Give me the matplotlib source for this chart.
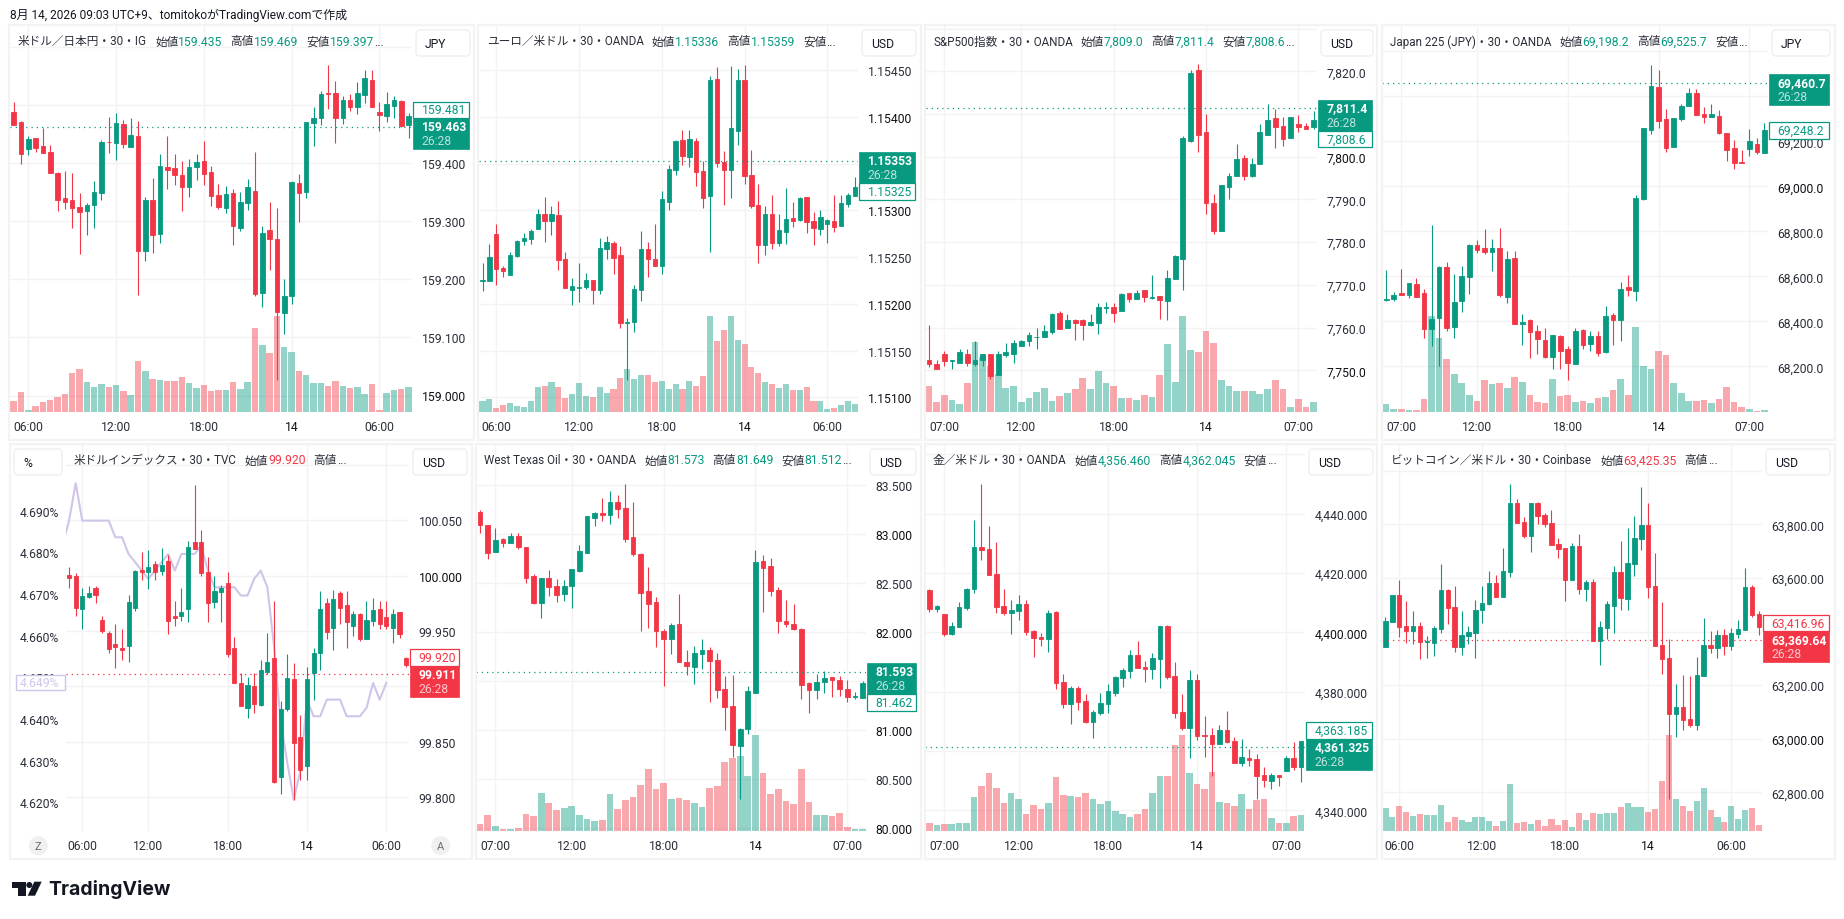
import numpy as np
import matplotlib
matplotlib.use('Agg')
import matplotlib.pyplot as plt
from matplotlib.patches import Rectangle, FancyBboxPatch, Polygon, Circle

plt.rcParams['font.family'] = ['Roboto', 'Noto Sans CJK JP', 'DejaVu Sans']

# ---- USD/JPY ----
usdjpy_open = [159.488,159.471,159.424,159.444,159.430,159.420,159.383,159.340,159.337,159.325,159.318,159.328,159.349,159.437,159.435,159.468,159.428,159.447,159.249,159.337,159.278,159.394,159.392,159.380,159.359,159.394,159.404,159.385,159.345,159.323,159.349,159.288,159.332,159.352,159.176,159.285,159.269,159.142,159.171,159.366,159.351,159.470,159.478,159.521,159.521,159.478,159.509,159.497,159.518,159.544,159.489,159.482,159.499,159.508,159.466]
usdjpy_high = [159.505,159.473,159.447,159.444,159.461,159.432,159.385,159.387,159.383,159.349,159.332,159.370,159.440,159.480,159.487,159.475,159.478,159.473,159.342,159.375,159.416,159.447,159.416,159.404,159.407,159.416,159.439,159.395,159.364,159.361,159.356,159.351,159.373,159.420,159.292,159.333,159.323,159.200,159.370,159.382,159.471,159.497,159.525,159.570,159.542,159.516,159.520,159.540,159.561,159.561,159.505,159.523,159.516,159.509,159.487]
usdjpy_low = [159.466,159.399,159.414,159.420,159.418,159.383,159.318,159.321,159.288,159.244,159.276,159.288,159.337,159.418,159.406,159.426,159.428,159.173,159.232,159.245,159.263,159.356,159.363,159.318,159.342,159.371,159.363,159.326,159.321,159.314,159.259,159.283,159.319,159.171,159.152,159.216,159.026,159.106,159.157,159.299,159.340,159.430,159.466,159.494,159.435,159.468,159.490,159.485,159.504,159.497,159.456,159.471,159.478,159.463,159.444]
usdjpy_close = [159.466,159.416,159.442,159.427,159.418,159.383,159.337,159.333,159.323,159.316,159.328,159.351,159.436,159.436,159.470,159.433,159.449,159.249,159.337,159.276,159.395,159.388,159.380,159.359,159.394,159.402,159.382,159.344,159.325,159.347,159.292,159.333,159.359,159.175,159.280,159.269,159.144,159.171,159.368,159.349,159.471,159.478,159.520,159.520,159.478,159.509,159.497,159.521,159.547,159.497,159.483,159.502,159.509,159.464,159.482]
usdjpy_vol = [32,59,5,17,29,35,44,53,116,128,89,74,83,74,80,62,50,152,122,98,95,92,92,104,86,71,80,62,65,65,89,68,89,251,200,176,287,194,179,122,110,86,86,77,92,77,71,74,53,83,5,56,65,68,74]
usdjpy_ticks = [159.0,159.1,159.2,159.3,159.4,159.5]
usdjpy_extra_grid = [159.6]

# ---- EUR/USD ----
eurusd_open = [1.15225,1.15224,1.15275,1.15238,1.15231,1.15251,1.15267,1.15269,1.15280,1.15296,1.15289,1.15295,1.15248,1.15215,1.15217,1.15218,1.15226,1.15215,1.15259,1.15265,1.15252,1.15180,1.15181,1.15215,1.15259,1.15248,1.15241,1.15309,1.15343,1.15375,1.15357,1.15374,1.15342,1.15315,1.15441,1.15352,1.15343,1.15385,1.15440,1.15338,1.15306,1.15263,1.15296,1.15265,1.15277,1.15292,1.15290,1.15314,1.15289,1.15280,1.15285,1.15289,1.15283,1.15307,1.15315]
eurusd_high = [1.15244,1.15264,1.15285,1.15240,1.15256,1.15268,1.15276,1.15280,1.15302,1.15314,1.15305,1.15310,1.15256,1.15228,1.15244,1.15233,1.15226,1.15270,1.15273,1.15267,1.15262,1.15185,1.15220,1.15278,1.15266,1.15286,1.15321,1.15349,1.15375,1.15386,1.15386,1.15378,1.15353,1.15444,1.15454,1.15364,1.15455,1.15451,1.15456,1.15365,1.15328,1.15305,1.15316,1.15296,1.15324,1.15309,1.15314,1.15314,1.15298,1.15300,1.15291,1.15316,1.15316,1.15319,1.15336]
eurusd_low = [1.15214,1.15224,1.15220,1.15229,1.15231,1.15250,1.15263,1.15264,1.15280,1.15266,1.15274,1.15236,1.15217,1.15199,1.15202,1.15216,1.15200,1.15211,1.15248,1.15232,1.15174,1.15118,1.15170,1.15203,1.15229,1.15240,1.15232,1.15300,1.15338,1.15349,1.15347,1.15326,1.15303,1.15256,1.15346,1.15306,1.15313,1.15370,1.15328,1.15303,1.15244,1.15252,1.15259,1.15262,1.15264,1.15282,1.15289,1.15276,1.15263,1.15274,1.15265,1.15277,1.15283,1.15304,1.15315]
eurusd_close = [1.15226,1.15250,1.15237,1.15235,1.15252,1.15267,1.15270,1.15278,1.15296,1.15289,1.15296,1.15247,1.15217,1.15219,1.15218,1.15226,1.15215,1.15260,1.15266,1.15249,1.15179,1.15181,1.15216,1.15259,1.15248,1.15240,1.15312,1.15344,1.15374,1.15358,1.15376,1.15341,1.15313,1.15440,1.15351,1.15343,1.15388,1.15440,1.15337,1.15305,1.15263,1.15296,1.15265,1.15279,1.15291,1.15289,1.15313,1.15288,1.15281,1.15293,1.15290,1.15282,1.15308,1.15316,1.15325]
eurusd_vol = [32,38,11,20,26,17,14,32,74,77,89,74,41,53,86,47,44,74,56,68,101,128,98,110,110,89,92,68,83,68,92,77,107,287,212,245,287,215,203,134,116,89,83,71,83,65,65,74,32,32,8,11,20,32,23]
eurusd_ticks = [1.151,1.1515,1.152,1.1525,1.153,1.154,1.1545]
eurusd_extra_grid = [1.1535]

# ---- S&P500 ----
spx_open = [7752.5,7751.4,7753.7,7752.1,7751.8,7753.7,7751.4,7752.3,7753.7,7748.8,7753.5,7753.9,7755.6,7756.8,7757.8,7757.9,7758.9,7763.3,7759.8,7761.7,7761.7,7760.5,7761.0,7764.7,7764.9,7763.8,7768.0,7766.8,7768.7,7767.0,7767.5,7766.3,7771.3,7776.0,7803.6,7820.2,7805.7,7789.1,7782.7,7792.8,7795.6,7799.8,7795.6,7798.2,7805.2,7809.0,7807.3,7804.3,7807.6,7807.3,7806.9]
spx_high = [7760.5,7752.3,7754.6,7752.5,7755.1,7754.9,7756.8,7753.9,7753.9,7754.6,7756.5,7757.0,7757.2,7758.9,7759.8,7760.7,7763.3,7763.8,7763.1,7762.1,7762.1,7763.1,7765.7,7766.1,7765.7,7768.0,7768.0,7768.7,7768.9,7772.2,7767.5,7773.4,7776.9,7804.8,7820.2,7821.6,7809.9,7791.2,7793.3,7796.1,7802.9,7800.3,7799.8,7807.6,7812.3,7811.1,7809.2,7809.4,7809.7,7807.8,7810.6]
spx_low = [7750.7,7750.2,7751.1,7750.2,7751.8,7750.9,7750.9,7751.1,7747.9,7748.8,7753.2,7751.6,7755.6,7755.8,7755.1,7757.9,7758.6,7759.6,7759.8,7757.2,7757.2,7760.3,7758.6,7763.5,7761.2,7763.8,7766.1,7766.8,7766.1,7766.8,7762.1,7761.7,7771.3,7768.9,7803.4,7801.2,7786.7,7781.8,7782.5,7790.0,7795.6,7794.5,7795.2,7798.2,7805.2,7802.0,7802.4,7804.3,7805.7,7806.6,7806.6]
spx_close = [7751.4,7750.2,7752.1,7752.3,7754.2,7751.6,7752.3,7753.7,7748.6,7753.7,7754.2,7756.3,7756.8,7758.2,7757.9,7759.1,7763.1,7759.6,7761.7,7761.0,7760.7,7761.2,7764.9,7764.9,7763.5,7767.8,7766.8,7768.2,7767.1,7767.2,7766.5,7771.7,7776.7,7804.3,7819.7,7805.0,7789.1,7782.7,7793.3,7795.4,7799.4,7795.6,7798.4,7805.9,7808.7,7806.9,7804.1,7809.2,7806.9,7806.6,7808.7]
spx_vol = [77,29,50,35,23,86,209,164,137,113,71,77,29,41,59,71,32,47,56,68,101,68,122,86,77,41,41,35,50,44,110,203,89,287,185,179,242,206,95,77,62,62,62,53,68,95,68,14,38,14,29]
spx_ticks = [7750,7760,7770,7780,7790,7800,7820]
spx_extra_grid = [7810,7830]

# ---- Japan 225 ----
nikkei_open = [68495,68499,68526,68517,68566,68526,68366,68415,68641,68375,68490,68597,68739,68726,68708,68726,68508,68681,68390,68406,68357,68317,68241,68335,68277,68210,68361,68299,68335,68264,68428,68406,68553,68535,68944,69250,69441,69299,69175,69299,69357,69415,69321,69308,69313,69237,69170,69108,69166,69188,69148]
nikkei_high = [68628,68530,68633,68570,68593,68544,68828,68646,68664,68610,68646,68744,68761,68810,68766,68815,68713,68713,68433,68410,68384,68370,68339,68339,68290,68370,68366,68357,68357,68468,68437,68575,68606,68961,69259,69539,69517,69344,69304,69366,69437,69433,69353,69366,69339,69237,69206,69161,69255,69215,69281]
nikkei_low = [68492,68492,68517,68504,68508,68326,68290,68201,68357,68326,68441,68521,68704,68699,68624,68508,68481,68388,68295,68237,68255,68237,68188,68188,68139,68210,68277,68268,68246,68259,68295,68313,68513,68490,68939,69233,69259,69153,69175,69290,69357,69317,69281,69308,69233,69113,69077,69104,69135,69144,69148]
nikkei_close = [68498,68517,68517,68570,68508,68366,68410,68641,68370,68486,68601,68739,68717,68708,68726,68517,68677,68388,68395,68353,68321,68241,68339,68268,68215,68357,68295,68335,68259,68424,68406,68544,68539,68948,69259,69446,69290,69170,69304,69357,69415,69317,69308,69321,69237,69161,69104,69104,69201,69153,69250]
nikkei_vol = [23,8,8,5,5,38,287,221,158,113,86,50,32,95,83,86,71,104,89,50,29,26,98,47,50,29,32,26,41,44,65,98,50,254,137,128,182,170,86,56,32,32,35,26,38,74,29,14,8,2,5]
nikkei_ticks = [68200,68400,68600,68800,69000,69200]
nikkei_extra_grid = [69400,69600]

# ---- Dollar index ----
dxy_open = [100.001,100.000,99.970,99.981,99.989,99.960,99.948,99.938,99.935,99.937,99.971,100.005,100.003,100.011,100.004,100.013,99.964,99.964,99.970,100.030,100.030,100.003,99.976,99.985,99.993,99.935,99.903,99.881,99.900,99.883,99.913,99.926,99.818,99.880,99.907,99.854,99.828,99.912,99.930,99.975,99.953,99.984,99.974,99.955,99.965,99.943,99.959,99.970,99.963,99.953,99.967,99.926]
dxy_high = [100.008,100.002,99.989,99.991,99.991,99.964,99.950,99.956,99.952,99.983,100.005,100.021,100.023,100.013,100.025,100.019,99.977,99.989,100.031,100.082,100.041,100.017,100.000,99.992,100.003,99.945,99.912,99.909,99.912,99.924,99.948,99.977,99.887,99.929,99.921,99.874,99.918,99.935,99.986,99.980,99.987,99.986,99.986,99.968,99.966,99.977,99.980,99.977,99.977,99.970,99.967,99.927]
dxy_low = [99.989,99.964,99.952,99.980,99.975,99.948,99.930,99.917,99.924,99.922,99.968,99.996,99.988,99.996,100.001,99.947,99.955,99.959,99.958,100.024,100.000,99.958,99.971,99.958,99.927,99.903,99.882,99.872,99.876,99.882,99.911,99.813,99.803,99.878,99.798,99.816,99.816,99.888,99.915,99.943,99.933,99.956,99.935,99.946,99.941,99.943,99.955,99.952,99.952,99.939,99.944,99.918]
dxy_close = [99.998,99.971,99.982,99.984,99.983,99.950,99.934,99.936,99.933,99.976,100.004,100.003,100.008,100.003,100.010,99.959,99.962,99.967,100.026,100.024,100.002,99.975,99.986,99.989,99.929,99.903,99.882,99.901,99.884,99.915,99.922,99.814,99.880,99.908,99.849,99.825,99.907,99.930,99.970,99.949,99.979,99.971,99.958,99.965,99.943,99.960,99.969,99.956,99.955,99.965,99.947,99.919]
dxy_ticks = [99.8,99.85,99.95,100.0,100.05]
dxy_extra_grid = [99.9,100.1]
# 左軸の利回りライン (-1 は描画範囲の外から入る点)
yield_values = [4.682,4.688,4.697,4.688,4.688,4.688,4.688,4.688,4.684,4.684,4.680,4.678,4.676,4.674,4.676,4.678,4.680,4.676,4.680,4.680,4.680,4.682,4.676,4.672,4.672,4.672,4.672,4.670,4.670,4.674,4.676,4.672,4.658,4.640,4.630,4.621,4.628,4.645,4.641,4.641,4.645,4.645,4.645,4.641,4.641,4.641,4.643,4.649,4.645,4.649]
yield_ticks = [4.62,4.63,4.64,4.65,4.66,4.67,4.68,4.69]

# ---- WTI ----
wti_open = [83.221,83.088,82.813,82.945,82.904,82.976,82.864,82.568,82.292,82.547,82.466,82.384,82.466,82.619,82.802,83.159,83.210,83.190,83.323,83.261,82.966,82.792,82.415,82.303,82.007,81.925,82.078,81.691,81.640,81.772,81.813,81.711,81.415,81.242,80.834,81.007,81.374,82.721,82.670,82.425,82.109,82.078,82.027,81.476,81.405,81.487,81.538,81.507,81.415,81.337,81.323]
wti_high = [83.241,83.088,83.057,82.955,83.006,83.006,82.864,82.588,82.547,82.629,82.537,82.527,82.639,82.884,83.180,83.221,83.363,83.435,83.394,83.506,83.323,82.802,82.660,82.354,82.027,82.088,82.384,81.813,81.854,81.925,81.844,81.782,81.548,81.558,81.017,81.446,82.833,82.782,82.751,82.456,82.323,82.282,82.037,81.487,81.568,81.599,81.538,81.548,81.507,81.385,81.497]
wti_low = [83.006,82.741,82.813,82.864,82.904,82.843,82.496,82.282,82.139,82.364,82.303,82.313,82.241,82.609,82.802,83.078,83.129,83.098,83.159,82.915,82.772,82.007,82.037,81.844,81.446,81.772,81.691,81.558,81.466,81.619,81.283,81.323,80.997,80.722,80.293,80.956,81.374,82.201,82.364,81.986,82.048,82.017,81.313,81.170,81.313,81.374,81.334,81.344,81.283,81.313,81.323]
wti_close = [83.088,82.802,82.935,82.904,82.976,82.864,82.547,82.292,82.547,82.456,82.374,82.466,82.639,82.823,83.180,83.210,83.190,83.323,83.251,82.945,82.792,82.394,82.282,82.007,81.925,82.068,81.691,81.650,81.782,81.813,81.701,81.405,81.232,80.844,81.007,81.395,82.711,82.649,82.415,82.109,82.078,82.027,81.456,81.405,81.487,81.527,81.507,81.415,81.334,81.344,81.476]
wti_vol = [21,48,15,6,6,9,51,45,114,84,63,69,75,48,36,30,33,111,66,93,102,138,186,126,144,96,99,93,84,72,129,135,207,219,225,165,288,174,111,126,90,81,186,87,48,48,45,54,12,6,6]
wti_ticks = [80.0,80.5,81.0,82.0,82.5,83.0,83.5]
wti_extra_grid = [81.5]

# ---- Gold ----
gold_open = [4414.3,4407.9,4406.2,4399.4,4401.8,4408.2,4414.6,4428.8,4428.1,4419.7,4408.9,4406.5,4407.2,4409.6,4400.4,4398.4,4397.8,4406.9,4383.3,4375.8,4381.2,4376.9,4369.8,4372.8,4375.8,4379.6,4384.6,4387.0,4392.4,4388.3,4387.6,4391.0,4402.1,4385.3,4373.1,4367.8,4383.9,4365.4,4365.4,4362.4,4367.1,4363.4,4356.0,4357.6,4357.3,4351.9,4349.9,4351.9,4353.3,4357.6,4354.6]
gold_high = [4414.6,4409.2,4406.2,4403.5,4410.2,4414.9,4437.9,4450.0,4435.8,4430.4,4414.6,4410.9,4412.6,4410.9,4400.8,4399.8,4407.5,4407.2,4386.0,4381.9,4381.9,4379.2,4373.8,4379.6,4382.6,4385.3,4388.0,4394.0,4397.1,4390.3,4393.0,4402.1,4402.5,4390.0,4379.2,4387.3,4386.0,4371.8,4367.8,4368.8,4373.5,4364.7,4364.0,4360.7,4359.0,4354.6,4352.6,4351.9,4358.3,4363.0,4363.4]
gold_low = [4406.9,4406.9,4398.8,4399.1,4401.8,4407.5,4413.3,4424.4,4419.3,4406.5,4405.8,4399.4,4404.2,4399.1,4391.7,4395.4,4393.4,4380.9,4374.5,4369.1,4373.8,4369.4,4364.4,4372.1,4372.8,4378.5,4381.6,4384.6,4388.0,4383.3,4384.3,4381.2,4384.3,4371.1,4367.1,4357.6,4363.7,4358.0,4351.6,4362.4,4362.7,4356.0,4354.9,4354.9,4343.8,4347.9,4347.2,4348.2,4353.3,4353.6,4349.5]
gold_close = [4407.9,4408.8,4399.4,4402.1,4408.5,4414.6,4428.8,4427.8,4419.3,4408.5,4406.5,4407.5,4409.6,4400.1,4398.1,4397.8,4406.5,4382.9,4375.8,4381.2,4376.5,4369.8,4373.1,4376.2,4380.2,4384.9,4387.3,4392.4,4388.0,4387.6,4391.3,4402.1,4384.9,4372.8,4367.8,4383.9,4365.1,4365.1,4362.4,4367.1,4363.0,4356.0,4358.0,4357.0,4351.6,4350.2,4351.9,4351.2,4357.6,4354.6,4363.4]
gold_vol = [24,18,21,21,24,24,102,135,174,129,84,114,96,51,78,66,84,162,108,105,102,114,96,81,90,60,51,42,51,66,114,165,165,258,288,174,141,126,177,87,84,75,111,66,93,96,39,24,24,45,48]
gold_ticks = [4340,4380,4400,4420,4440]
gold_extra_grid = [4360,4460]

# ---- Bitcoin ----
btc_open = [63342,63435,63536,63420,63401,63420,63361,63356,63409,63554,63491,63342,63383,63394,63480,63502,63580,63528,63621,63879,63808,63756,63879,63834,63804,63726,63711,63592,63718,63558,63584,63364,63412,63495,63621,63521,63651,63745,63797,63569,63349,63300,63092,63118,63073,63050,63233,63349,63338,63386,63345,63390,63405,63565,63465]
btc_high = [63453,63536,63592,63513,63476,63435,63383,63420,63651,63558,63569,63476,63420,63517,63569,63625,63610,63711,63950,63894,63827,63879,63883,63842,63853,63748,63711,63730,63763,63592,63595,63439,63513,63644,63737,63786,63830,63939,63879,63692,63509,63371,63203,63237,63233,63304,63450,63401,63405,63409,63412,63442,63636,63573,63476]
btc_low = [63342,63435,63379,63356,63353,63297,63300,63308,63394,63427,63323,63312,63353,63300,63431,63498,63528,63528,63603,63804,63748,63696,63800,63789,63722,63674,63513,63592,63539,63513,63364,63274,63371,63394,63480,63480,63606,63703,63524,63345,63241,62774,63006,63032,63043,63032,63233,63319,63300,63312,63330,63375,63405,63453,63386]
btc_close = [63439,63536,63416,63401,63420,63360,63364,63412,63554,63487,63342,63386,63398,63480,63506,63580,63528,63625,63879,63804,63756,63879,63830,63800,63722,63707,63592,63718,63558,63584,63364,63416,63502,63621,63524,63655,63748,63797,63565,63345,63297,63092,63118,63069,63050,63237,63349,63338,63386,63345,63394,63409,63565,63461,63416]
btc_vol = [69,42,75,57,45,51,48,48,78,27,42,33,27,42,42,30,15,30,141,24,27,21,33,15,36,18,33,12,54,33,54,51,54,54,72,84,72,72,57,66,150,288,96,75,60,90,129,63,42,27,75,36,63,69,18]
btc_ticks = [62800,63000,63200,63600,63800]
btc_extra_grid = [63400,64000]

UP = '#089981'
DOWN = '#F23645'
GRID = '#F3F3F3'
TEXT = '#2A2E39'
STRONG = '#0F1116'
W, H = 1844, 920
VOL_TOP = 1158  # 出来高は下から1/3に収める

panels = [
    dict(o=usdjpy_open, h=usdjpy_high, l=usdjpy_low, c=usdjpy_close, vol=usdjpy_vol, ticks=usdjpy_ticks, extra=usdjpy_extra_grid,
         dec=3, strong=[159.0], name='米ドル／日本円・30・IG', head=[('始値', '159.435', UP), ('高値', '159.469', UP), ('安値', '159.397', UP)], unit='JPY',
         last=159.463, prev=159.481, xt=[2, 14, 26, 38, 50], xl=['06:00', '12:00', '18:00', '14', '06:00'],
         rect=(10, 27, 412, 413), frame=(9, 26, 474, 441), x_a=(85/3, 1138/3), y_a=(159.4, 164.3, 159.0, 396.5), tag_w=56, btn=(416, 470), title_x=18),
    dict(o=eurusd_open, h=eurusd_high, l=eurusd_low, c=eurusd_close, vol=eurusd_vol, ticks=eurusd_ticks, extra=eurusd_extra_grid,
         dec=5, strong=[1.151, 1.152, 1.153, 1.154], name='ユーロ／米ドル・30・OANDA', head=[('始値', '1.15336', UP), ('高値', '1.15359', UP), ('安値', '', UP)], unit='USD',
         last=1.15353, prev=1.15325, xt=[2, 14, 26, 38, 50], xl=['06:00', '12:00', '18:00', '14', '06:00'],
         rect=(479, 27, 858, 413), frame=(478, 26, 921, 441), x_a=(496.3, 827.3), y_a=(1.154, 118, 1.151, 398.3), tag_w=56, btn=(862, 916), title_x=487),
    dict(o=spx_open, h=spx_high, l=spx_low, c=spx_close, vol=spx_vol, ticks=spx_ticks, extra=spx_extra_grid,
         dec=1, strong=[7800, 7750], name='S&P500指数・30・OANDA', head=[('始値', '7,809.0', UP), ('高値', '7,811.4', UP), ('安値', '7,808.6', UP)], unit='USD',
         last=7811.4, prev=7808.6, xt=[2, 12, 24, 36, 48], xl=['07:00', '12:00', '18:00', '14', '07:00'],
         rect=(926, 27, 1317, 413), frame=(925, 26, 1377, 441), x_a=(944.3, 1298.3), y_a=(7820, 72.3, 7750, 371.3), tag_w=54, btn=(1321, 1373), title_x=933),
    dict(o=nikkei_open, h=nikkei_high, l=nikkei_low, c=nikkei_close, vol=nikkei_vol, ticks=nikkei_ticks, extra=nikkei_extra_grid,
         dec=1, strong=[69000], name='Japan 225 (JPY)・30・OANDA', head=[('始値', '69,198.2', UP), ('高値', '69,525.7', UP), ('安値', '', UP)], unit='JPY',
         last=69460.7, prev=69248.2, xt=[2, 12, 24, 36, 48], xl=['07:00', '12:00', '18:00', '14', '07:00'],
         rect=(1382, 27, 1768, 413), frame=(1382, 26, 1835, 441), x_a=(1401.3, 1749.3), y_a=(69400, 97.3, 68200, 367.3), tag_w=60, btn=(1772, 1830), title_x=1390),
    dict(o=dxy_open, h=dxy_high, l=dxy_low, c=dxy_close, vol=None, ticks=dxy_ticks, extra=dxy_extra_grid,
         dec=3, strong=[100.0], name='米ドルインデックス・30・TVC', head=[('始値', '99.920', DOWN), ('高値', '', DOWN)], unit='USD',
         last=99.911, prev=99.920, xt=[2, 12, 24, 36, 48], xl=['06:00', '12:00', '18:00', '14', '06:00'],
         rect=(66, 446, 409, 832), frame=(10, 445, 472, 860), x_a=(82.3, 386.3), y_a=(100.05, 521.3, 99.8, 798.3), tag_w=49, btn=(413, 467), title_x=74),
    dict(o=wti_open, h=wti_high, l=wti_low, c=wti_close, vol=wti_vol, ticks=wti_ticks, extra=wti_extra_grid,
         dec=3, strong=[83.0, 82.0, 81.0, 80.0], name='West Texas Oil・30・OANDA', head=[('始値', '81.573', UP), ('高値', '81.649', UP), ('安値', '81.512', UP)], unit='USD',
         last=81.593, prev=81.462, xt=[2, 12, 24, 36, 48], xl=['07:00', '12:00', '18:00', '14', '07:00'],
         rect=(476, 446, 866, 832), frame=(476, 445, 921, 860), x_a=(495.3, 847.3), y_a=(83.5, 485.7, 80.0, 828.7), tag_w=49, btn=(870, 916), title_x=484),
    dict(o=gold_open, h=gold_high, l=gold_low, c=gold_close, vol=gold_vol, ticks=gold_ticks, extra=gold_extra_grid,
         dec=3, strong=[4400], name='金／米ドル・30・OANDA', head=[('始値', '4,356.460', UP), ('高値', '4,362.045', UP), ('安値', '', UP)], unit='USD',
         last=4361.325, prev=4363.185, xt=[2, 12, 24, 36, 48], xl=['07:00', '12:00', '18:00', '14', '07:00'],
         rect=(925, 446, 1305, 832), frame=(925, 445, 1377, 860), x_a=(944.3, 1286.3), y_a=(4440, 514.7, 4340, 811.3), tag_w=66, btn=(1309, 1373), title_x=933),
    dict(o=btc_open, h=btc_high, l=btc_low, c=btc_close, vol=btc_vol, ticks=btc_ticks, extra=btc_extra_grid,
         dec=2, strong=[63000], name='ビットコイン／米ドル・30・Coinbase', head=[('始値', '63,425.35', DOWN), ('高値', '', DOWN)], unit='USD',
         last=63369.64, prev=63416.96, xt=[2, 14, 26, 38, 50], xl=['06:00', '12:00', '18:00', '14', '06:00'],
         rect=(1382, 446, 1762, 832), frame=(1382, 445, 1835, 860), x_a=(1399.3, 1731.3), y_a=(63800, 525.3, 62800, 793.3), tag_w=66, btn=(1766, 1830), title_x=1391),
]

fig = plt.figure(figsize=(W / 100, H / 100), dpi=100, facecolor='white')
renderer = fig.canvas.get_renderer()


def px_rect(l, t, r, b):
    return [l / W, 1 - b / H, (r - l) / W, (b - t) / H]


def bare_axes(rect):
    ax = fig.add_axes(px_rect(*rect))
    ax.patch.set_visible(False)
    for s in ax.spines.values():
        s.set_visible(False)
    return ax


def fmt_price(v, dec):
    return f"{v:,.{dec}f}"


# ---- 各チャート ----
for p in panels:
    L, T, R, B = p['rect']
    n = len(p['o'])
    ia, ib = p['xt'][0], p['xt'][-1]
    step = (p['x_a'][1] - p['x_a'][0]) / (ib - ia)
    xlim = ((L - p['x_a'][0]) / step + ia, (R - p['x_a'][0]) / step + ia)
    p0, y0, p1, y1 = p['y_a']
    per_px = (p0 - p1) / (y1 - y0)
    ylim = (p0 - (B - y0) * per_px, p0 + (y0 - T) * per_px)
    p['price_y'] = lambda v, p0=p0, y0=y0, per_px=per_px: y0 + (p0 - v) / per_px

    # 目盛りとグリッド
    base = bare_axes(p['rect'])
    base.set_xlim(xlim)
    base.set_ylim(ylim)
    all_y = list(p['ticks']) + list(p['extra'])
    base.yaxis.tick_right()
    base.set_yticks(all_y)
    base.set_yticklabels([fmt_price(v, p['dec']) for v in p['ticks']] + [''] * len(p['extra']))
    base.tick_params(axis='y', length=0, pad=7, labelsize=8.7, labelcolor=TEXT)
    for lab, v in zip(base.get_yticklabels(), all_y):
        if any(abs(v - s) < 1e-9 for s in p['strong']):
            lab.set_color(STRONG)
    base.set_xticks(p['xt'])
    base.set_xticklabels(p['xl'])
    base.tick_params(axis='x', length=0, pad=6, labelsize=8.7, labelcolor=TEXT)
    for lab, s in zip(base.get_xticklabels(), p['xl']):
        if s == '14':
            lab.set_color(STRONG)
    base.grid(True, color=GRID, linewidth=1.0)
    base.set_axisbelow(True)

    # 出来高 / 利回り
    under = bare_axes(p['rect'])
    under.set_xlim(xlim)
    under.set_xticks([])
    under.set_yticks([])
    colors = [UP if c >= o else DOWN for o, c in zip(p['o'], p['c'])]
    if p['vol'] is not None:
        under.bar(np.arange(n), p['vol'], width=0.88, color=colors, alpha=0.43, linewidth=0)
        under.set_ylim(0, VOL_TOP)
    else:
        q_per_px = 0.07 / (804.7 - 513.3)
        under.set_ylim(4.69 - (B - 513.3) * q_per_px, 4.69 + (513.3 - T) * q_per_px)
        under.plot(np.arange(-1, len(yield_values) - 1), yield_values, color='#D1C4E9', linewidth=1.5)
    under.set_xlim(xlim)

    # ローソク足
    ax = bare_axes(p['rect'])
    ax.set_xlim(xlim)
    ax.set_ylim(ylim)
    ax.set_xticks([])
    ax.set_yticks([])
    o, h, l, c = map(np.array, (p['o'], p['h'], p['l'], p['c']))
    wicks = ax.vlines(np.arange(n), l, h, colors=colors, linewidth=0.8)
    wicks.set_snap(True)
    ax.bar(np.arange(n), np.abs(c - o), bottom=np.minimum(o, c), width=0.62, color=colors, edgecolor=colors, linewidth=0.6)
    ax.axhline(p['last'], color=p['head'][0][2], linewidth=0.9, linestyle=(0, (1, 3.2)))

# ---- 図全体のオーバーレイ ----
ov = fig.add_axes([0, 0, 1, 1], zorder=10)
ov.patch.set_visible(False)
ov.set_xlim(0, W)
ov.set_ylim(H, 0)
ov.axis('off')

ov.text(10, 15, '8月 14, 2026 09:03 UTC+9、tomitokoがTradingView.comで作成', fontsize=8.6, color='#131722', va='center')

for p in panels:
    fl, ft, fr, fb = p['frame']
    L, T, R, B = p['rect']
    ov.add_patch(Rectangle((fl, ft), fr - fl, fb - ft, fill=False, edgecolor=GRID, linewidth=1.6))

    # 単位ボタン
    top = ft + 5
    bx0, bx1 = p['btn']
    ov.add_patch(FancyBboxPatch((bx0 + 2, top + 2), bx1 - bx0 - 4, 22, boxstyle='round,pad=2,rounding_size=4',
                                facecolor='white', edgecolor='#EFEFEF', linewidth=1.0, zorder=4))
    ov.text(bx0 + 9, top + 13.5, p['unit'], fontsize=8.7, color='#131722', va='center', zorder=5)

    # タイトル行
    ty = ft + 16
    x = p['title_x']
    t = ov.text(x, ty, p['name'], fontsize=8.4, color=TEXT, va='center', zorder=5)
    x += t.get_window_extent(renderer).width + 8
    for i, (label, val, col) in enumerate(p['head']):
        t = ov.text(x, ty, label, fontsize=8.4, color=TEXT, va='center', zorder=5)
        x += t.get_window_extent(renderer).width
        if val:
            t = ov.text(x, ty, val, fontsize=8.7, color=col, va='center', zorder=5)
            x += t.get_window_extent(renderer).width
        if i < len(p['head']) - 1:
            x += 8
    ov.text(x, ty, '...', fontsize=8.7, color=TEXT, va='center', zorder=5)

    # 価格タグ
    y_last = p['price_y'](p['last'])
    y_prev = p['price_y'](p['prev'])
    col = p['head'][0][2]
    tw = p['tag_w']
    tag_top = y_last - 8.5
    tag_bot = tag_top + 31
    prev_h = 16.5
    prev_top = y_prev - prev_h / 2
    if prev_top + prev_h > tag_top and prev_top < tag_bot:
        prev_top = tag_top - prev_h if p['prev'] > p['last'] else tag_bot
    ov.add_patch(Rectangle((R + 1, prev_top), tw, prev_h, facecolor='white', edgecolor=col, linewidth=0.9, zorder=6))
    ov.text(R + 9.5, prev_top + prev_h / 2, fmt_price(p['prev'], p['dec']), fontsize=8.7, color=col, va='center', zorder=7)
    ov.add_patch(Rectangle((R + 1, tag_top), tw, 31, facecolor=col, edgecolor=col, linewidth=0.5, zorder=6))
    ov.text(R + 9.5, y_last, fmt_price(p['last'], p['dec']), fontsize=8.7, color='white', fontweight='bold', va='center', zorder=7)
    ov.text(R + 9.5, y_last + 14, '26:28', fontsize=8.7, color='#FFFFFF', alpha=0.72, va='center', zorder=7)

# 左スケール (米ドルインデックス)
dxy_q_y = lambda q: 513.3 + (4.69 - q) * (804.7 - 513.3) / 0.07
for q in yield_ticks:
    ov.text(20, dxy_q_y(q), f"{q:.3f}%", fontsize=8.7, color=TEXT, va='center', zorder=3)
ov.add_patch(Rectangle((16, dxy_q_y(yield_values[-1]) - 8), 48.5, 15.5, facecolor='white', edgecolor='#D1C4E9', linewidth=1.0, zorder=4))
ov.text(20, dxy_q_y(yield_values[-1]), f"{yield_values[-1]:.3f}%", fontsize=8.7, color='#D1C4E9', va='center', zorder=5)
ov.add_patch(FancyBboxPatch((16, 452), 44, 22, boxstyle='round,pad=2,rounding_size=4', facecolor='white', edgecolor='#EFEFEF', linewidth=1.0, zorder=4))
ov.text(23, 463.5, '%', fontsize=8.7, color='#131722', va='center', zorder=5)
for cx, letter in [(38.3, 'Z'), (440.7, 'A')]:
    ov.add_patch(Circle((cx, 846.7), 9.5, facecolor='#F0F0F0', edgecolor='none', zorder=4))
    ov.text(cx, 846.7, letter, fontsize=8, color='#6A6D78', ha='center', va='center', zorder=5)

# TradingView ロゴ
LOGO = '#131722'
ov.add_patch(Polygon([(12.3, 882.7), (25.7, 882.7), (25.7, 896.7), (18.3, 896.7), (18.3, 888.7), (12.3, 888.7)], facecolor=LOGO, edgecolor='none'))
ov.add_patch(Circle((29.3, 886), 3, facecolor=LOGO, edgecolor='none'))
ov.add_patch(Polygon([(34.3, 882.7), (41.7, 882.7), (35, 896.7), (27.7, 896.7)], facecolor=LOGO, edgecolor='none'))
ov.text(48.5, 889.5, 'TradingView', fontsize=14, fontweight='bold', family=['Inter', 'DejaVu Sans'], color=LOGO, va='center')

fig.savefig('out.png', dpi=100, facecolor='white')
